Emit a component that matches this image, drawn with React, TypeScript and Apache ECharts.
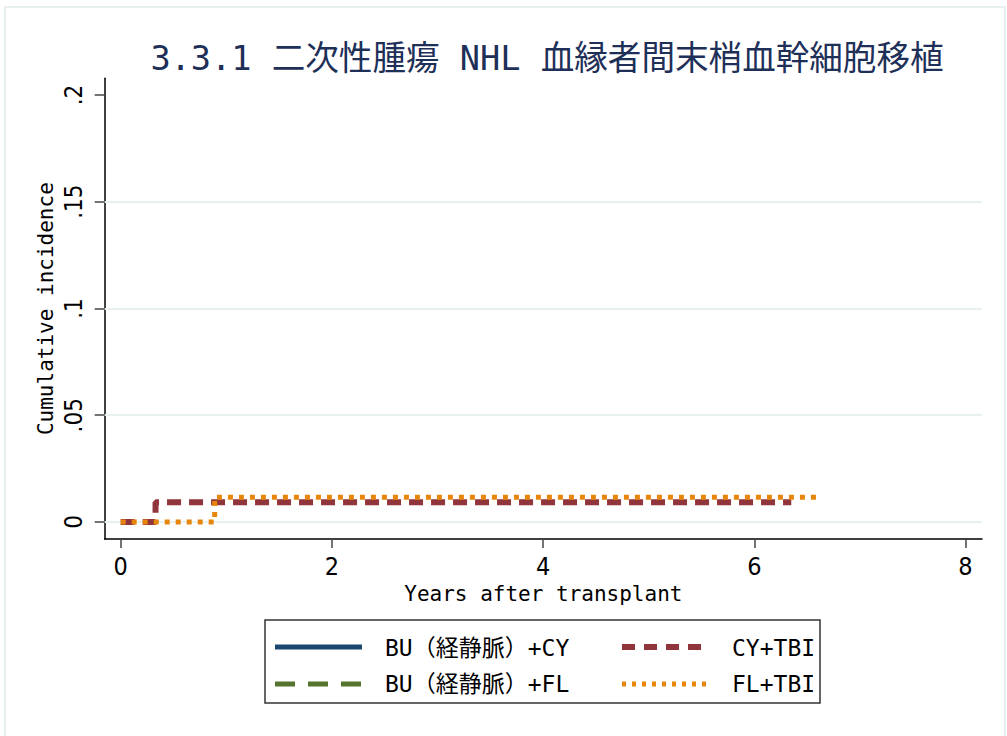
import React, { useEffect, useRef } from "react";
import * as echarts from "echarts";

const TITLE = "3.3.1 二次性腫瘍 NHL 血縁者間末梢血幹細胞移植";
const SERIES_NAMES = ["BU（経静脈）+CY", "BU（経静脈）+FL", "CY+TBI", "FL+TBI"];
const SERIES_COLORS = ["#1a476f", "#55752f", "#90353b", "#e8860c"];
const buCyData: number[][] = [];
const buFlData: number[][] = [];
const cyTbiData: number[][] = [[0, 0], [0.33, 0.0092], [6.35, 0.0092]];
const flTbiData: number[][] = [[0, 0], [0.89, 0.0116], [6.6, 0.0116]];
const xTicks = [0, 2, 4, 6, 8];
const yTicks = [0, 0.05, 0.1, 0.15, 0.2];
const yGridValues = [0, 0.05, 0.1, 0.15];

const MONO = "'DejaVu Sans Mono', 'Noto Sans CJK JP', monospace";
const NARROW = "'Liberation Sans Narrow', 'DejaVu Sans Condensed', sans-serif";

const LINE_DASHES: any[] = [null, [20, 13], [13, 9], [4, 6]];
const LINE_WIDTHS = [5, 5, 6, 5];

function fmtY(v: number) {
  if (v === 0) return "0";
  return String(v).replace(/^0/, "");
}

export default function App() {
  const ref = useRef<HTMLDivElement>(null);
  useEffect(() => {
    if (!ref.current) return;
    const chart = echarts.init(ref.current, null, { renderer: "svg" });
    const lineSeries = (name: string, data: number[][], color: string, type: any, width: number, extra: any = {}) => ({
      name,
      type: "line",
      data,
      step: "end",
      symbol: "none",
      showSymbol: false,
      color,
      lineStyle: { color, width, type, cap: "butt" },
      z: 3,
      ...extra,
    });
    const legendCommon = {
      orient: "vertical",
      top: 631,
      itemWidth: 87,
      itemHeight: 24,
      itemGap: 13,
      itemStyle: { opacity: 0 },
      lineStyle: { opacity: 0 },
      textStyle: { fontFamily: MONO, fontSize: 23, color: "#000", padding: [0, 0, 0, 12] },
    };
    const iconPos = [
      { x: 275, y: 647 },
      { x: 275, y: 684 },
      { x: 622, y: 647 },
      { x: 622, y: 684 },
    ];
    const legendIcons = iconPos.map((p, i) => ({
      type: "line",
      silent: true,
      shape: { x1: p.x, y1: p.y, x2: p.x + 87, y2: p.y },
      style: {
        stroke: SERIES_COLORS[i],
        lineWidth: LINE_WIDTHS[i],
        lineDash: LINE_DASHES[i] || undefined,
        lineCap: "butt",
      },
    }));
    chart.setOption({
      animation: false,
      backgroundColor: "#ffffff",
      title: {
        text: TITLE,
        left: 542,
        top: 37,
        textAlign: "center",
        textStyle: { fontFamily: MONO, fontSize: 33.6, fontWeight: "normal", color: "#1e2f58" },
      },
      grid: { left: 104.7, top: 78.3, right: 25, bottom: 197, containLabel: false },
      xAxis: {
        type: "value",
        min: -0.1515,
        max: 8.156,
        name: "Years after transplant",
        nameLocation: "middle",
        nameGap: 44,
        nameMoveOverlap: false,
        nameTextStyle: { fontFamily: MONO, fontSize: 21, color: "#000" },
        axisLine: { show: true, onZero: false, lineStyle: { color: "#000", width: 1.5 } },
        axisTick: { show: true, length: 9, customValues: xTicks, lineStyle: { color: "#444", width: 1.5 } },
        axisLabel: { customValues: xTicks, margin: 15, fontFamily: NARROW, fontSize: 25, color: "#000" },
        splitLine: { show: false },
      },
      yAxis: {
        type: "value",
        min: -0.00796,
        max: 0.2078,
        name: "Cumulative incidence",
        nameLocation: "middle",
        nameGap: 48,
        nameMoveOverlap: false,
        nameRotate: 90,
        nameTextStyle: { fontFamily: MONO, fontSize: 21, color: "#000" },
        axisLine: { show: true, onZero: false, lineStyle: { color: "#000", width: 1.5 } },
        axisTick: { show: true, length: 10, customValues: yTicks, lineStyle: { color: "#444", width: 1.5 } },
        axisLabel: {
          customValues: yTicks,
          rotate: 90,
          margin: 19,
          formatter: (v: number) => fmtY(v),
          fontFamily: NARROW,
          fontSize: 24,
          color: "#000",
        },
        splitLine: { show: false },
      },
      legend: [
        { ...legendCommon, data: [SERIES_NAMES[0], SERIES_NAMES[1]], left: 275 },
        { ...legendCommon, data: [SERIES_NAMES[2], SERIES_NAMES[3]], left: 622 },
      ],
      graphic: [
        { type: "rect", shape: { x: 5, y: 7, width: 1000, height: 740 }, style: { fill: "none", stroke: "#e6eef0", lineWidth: 2 }, silent: true, z: -1 },
        { type: "rect", shape: { x: 265, y: 620, width: 555, height: 83 }, style: { fill: "none", stroke: "#333", lineWidth: 1.5 }, silent: true },
        ...legendIcons,
      ],
      series: [
        {
          ...lineSeries(SERIES_NAMES[0], buCyData, SERIES_COLORS[0], "solid", LINE_WIDTHS[0]),
          markLine: {
            silent: true,
            symbol: "none",
            label: { show: false },
            lineStyle: { color: "#e8f0f2", width: 2, type: "solid" },
            data: yGridValues.map((v) => ({ yAxis: v })),
            z: 1,
          },
        },
        lineSeries(SERIES_NAMES[1], buFlData, SERIES_COLORS[1], LINE_DASHES[1], LINE_WIDTHS[1]),
        lineSeries(SERIES_NAMES[2], cyTbiData, SERIES_COLORS[2], [14, 8], LINE_WIDTHS[2]),
        lineSeries(SERIES_NAMES[3], flTbiData, SERIES_COLORS[3], [5, 6], LINE_WIDTHS[3]),
      ],
    });
    return () => chart.dispose();
  }, []);
  return <div ref={ref} style={{ position: "fixed", left: 0, top: 0, width: 1007, height: 736 }} />;
}
